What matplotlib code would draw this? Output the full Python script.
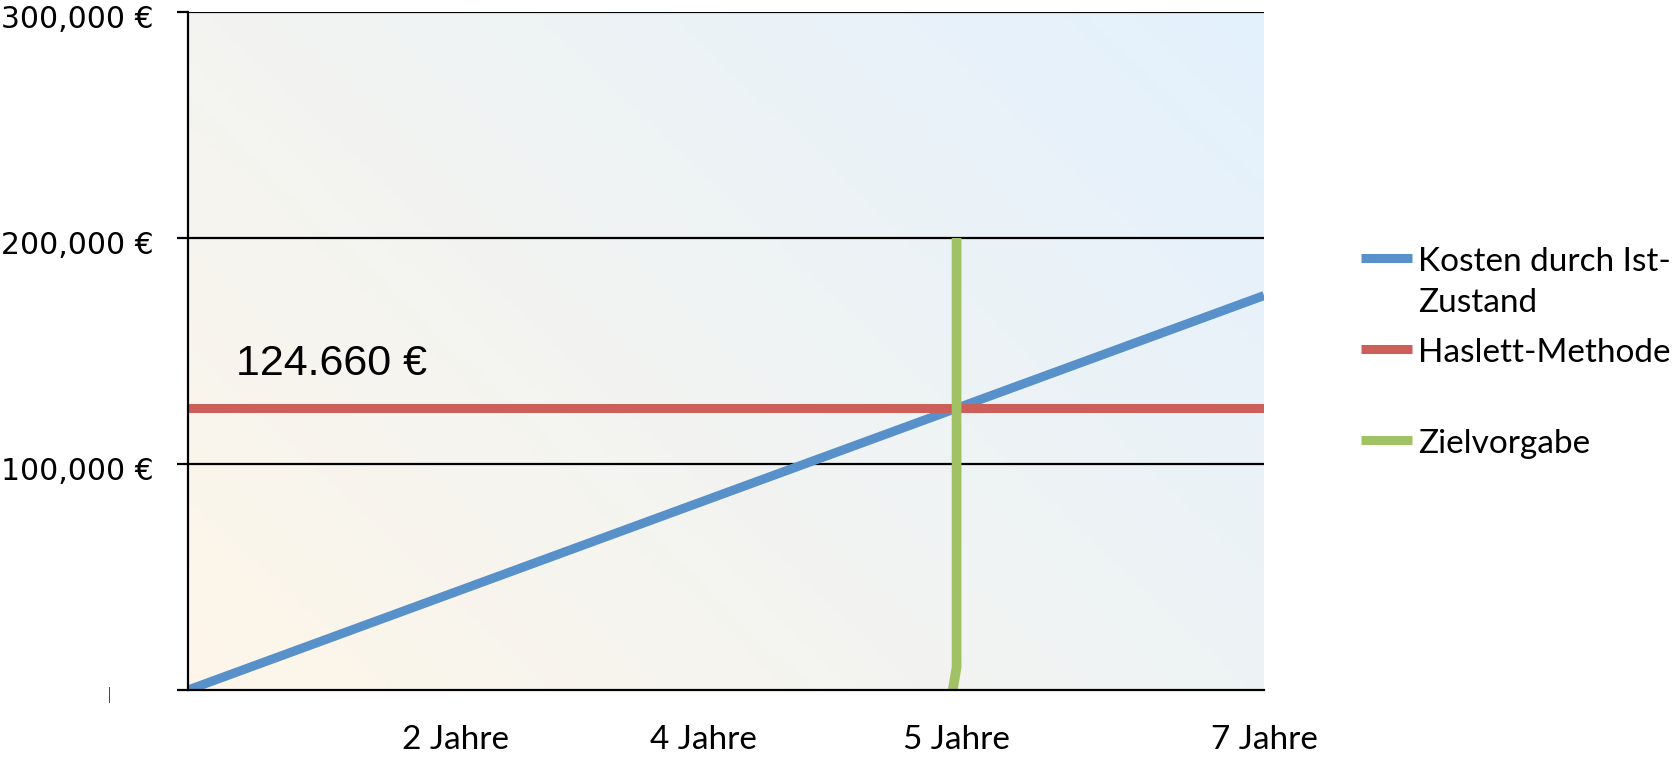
import numpy as np
import matplotlib.pyplot as plt
from matplotlib.lines import Line2D
from matplotlib.transforms import ScaledTranslation

# data
jahre = [0, 7]
kosten_ist = [0, 174524]
haslett = 124660
ziel_x = [5, 5, 4.975]
ziel_y = [200000, 10000, 0]

yticks = [0, 100000, 200000, 300000]
ytick_labels = ["", "100,000 €", "200,000 €", "300,000 €"]
xticks = [1.74, 3.35, 5.0, 7.0]
xtick_labels = ["2 Jahre", "4 Jahre", "5 Jahre", "7 Jahre"]

legend_labels = ["Kosten durch Ist-\nZustand", "Haslett-Methode", "Zielvorgabe"]
colors = ["#5890c9", "#cd5f5a", "#a0c264"]

fig = plt.figure(figsize=(16.78, 7.6), dpi=100)
ax = fig.add_axes([188 / 1678, 1 - 690 / 760, (1264 - 188) / 1678, (690 - 12) / 760])

# soft diagonal gradient behind the plot
c0 = np.array([254, 246, 233]) / 255.0
c1 = np.array([227, 241, 253]) / 255.0
gx, gy = np.meshgrid(np.linspace(0, 1, 200), np.linspace(0, 1, 200))
t = (gx * 0.6 + gy * 0.4)[..., None]
grad = c0 * (1 - t) + c1 * t
ax.imshow(grad, extent=[0, 7, 0, 300000], origin="lower", aspect="auto", zorder=0)

ax.set_xlim(0, 7)
ax.set_ylim(0, 300000)

for yv in yticks[1:]:
    ax.axhline(yv, color="black", lw=1.6, zorder=1)

ax.plot(jahre, kosten_ist, color=colors[0], lw=6.5, solid_capstyle="butt", zorder=3)
ax.axhline(haslett, color=colors[1], lw=6.5, zorder=3)
ax.plot(ziel_x, ziel_y, color=colors[2], lw=7, solid_capstyle="butt", zorder=4)

ax.annotate(f"{haslett:,}".replace(",", ".") + " €", xy=(0, haslett),
            xytext=(34.5, 24), textcoords="offset points", va="baseline",
            fontsize=31, family="Liberation Sans")

ax.set_yticks(yticks)
ax.set_yticklabels(ytick_labels, fontsize=21.5, family="DejaVu Sans")
ax.tick_params(axis="y", length=8, width=1.6, pad=17, color="black")
for lab in ax.get_yticklabels():
    lab.set_transform(lab.get_transform() + ScaledTranslation(0, -4 / 100, fig.dpi_scale_trans))

ax.set_xticks(xticks)
ax.set_xticklabels(xtick_labels, fontsize=24, family="Lato")
ax.tick_params(axis="x", length=0, pad=25)

for s in ["top", "right"]:
    ax.spines[s].set_visible(False)
ax.spines["left"].set_linewidth(1.6)
ax.spines["bottom"].set_linewidth(1.6)
ax.spines["left"].set_zorder(5)
ax.spines["bottom"].set_zorder(5)

# odd little mark where the zero label would be
fig.text(109 / 1678, 1 - 695 / 760, "|", fontsize=11, ha="center", va="center",
         family="DejaVu Sans", fontweight="light")

# legend drawn by hand to keep the Excel-like spacing
ys = [258, 349, 440]
for lab, col, yp in zip(legend_labels, colors, ys):
    fy = 1 - yp / 760
    fig.add_artist(Line2D([1361 / 1678, 1412 / 1678], [fy, fy], color=col, lw=6.5,
                          solid_capstyle="butt"))
    fig.text(1418 / 1678, 1 - (yp - 11) / 760, lab, fontsize=24, family="Lato",
             va="top", ha="left", linespacing=1.45)

fig.savefig("out.png", dpi=100)
